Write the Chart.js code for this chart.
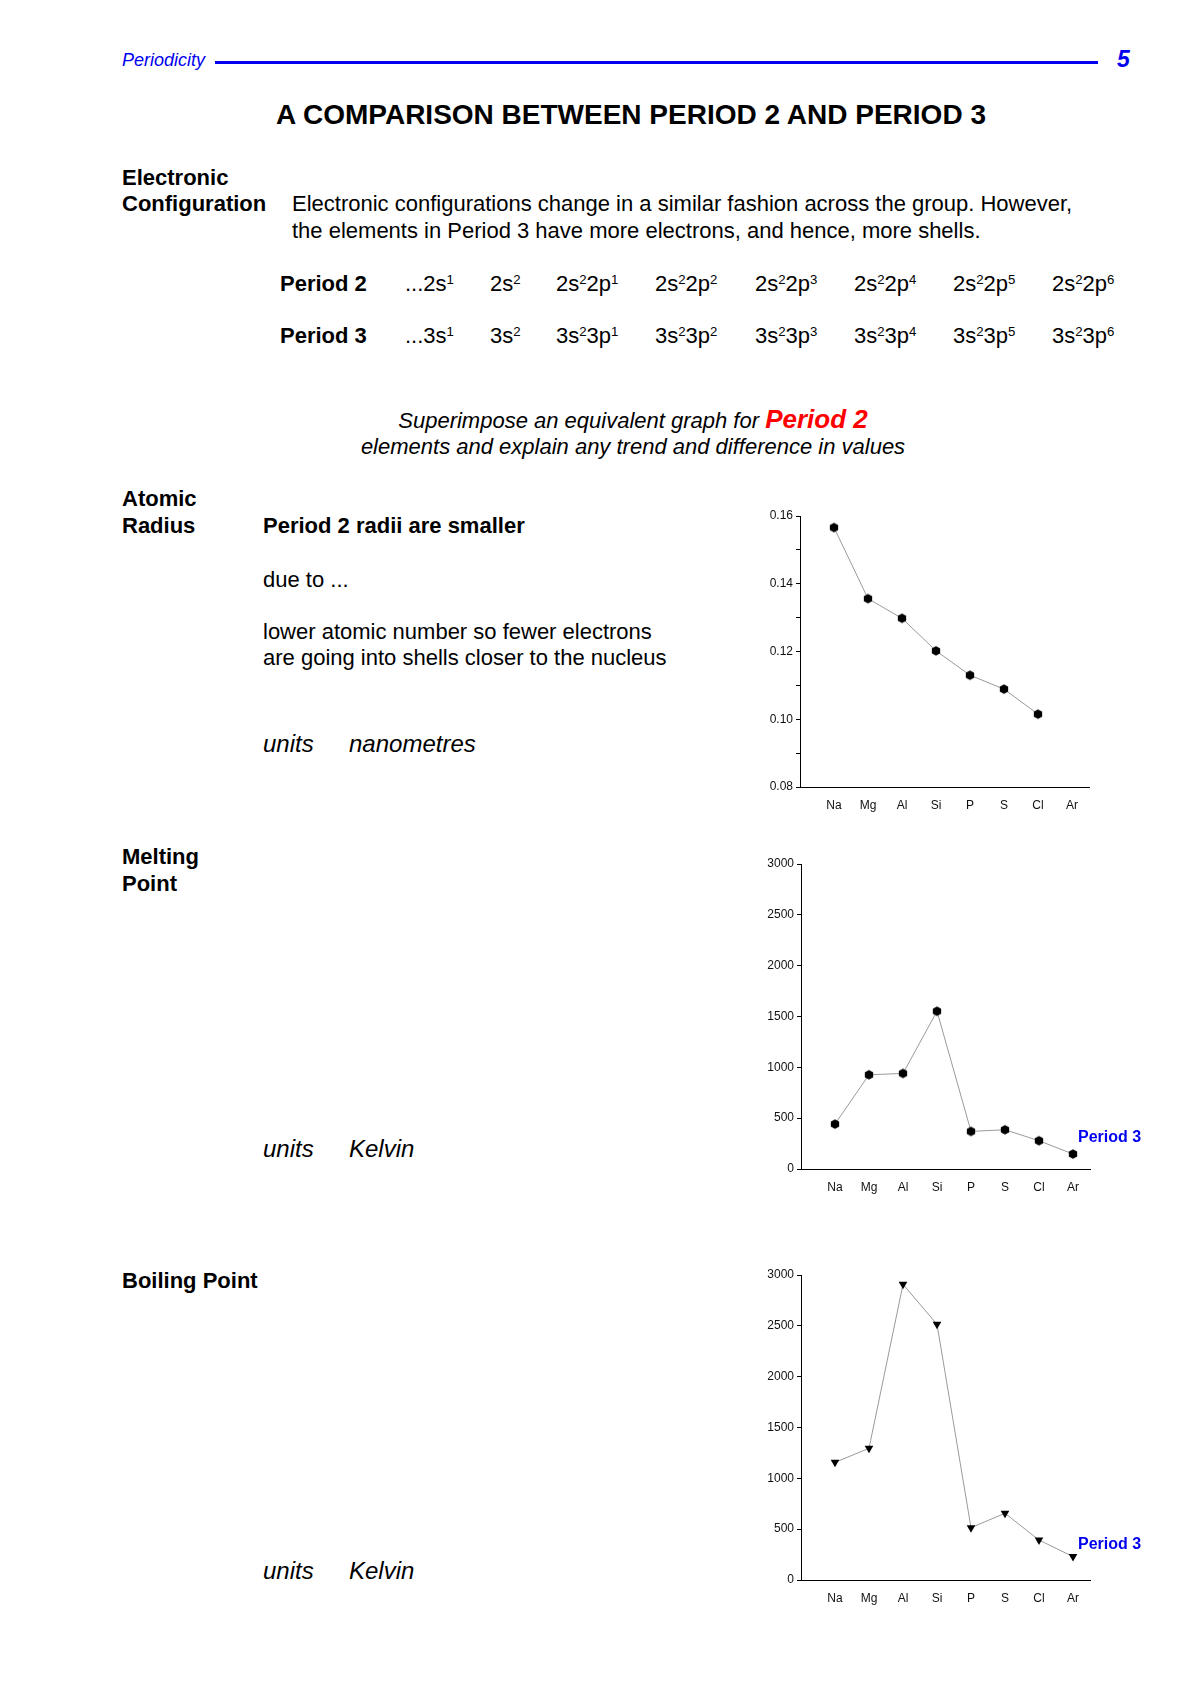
<!DOCTYPE html>
<html>
<head>
<meta charset="utf-8">
<script src="https://cdn.jsdelivr.net/npm/chart.js@4.4.1/dist/chart.umd.min.js"></script>
<style>
  body { margin: 0; background: #fff; font-family: "Liberation Sans", Arial, Helvetica, sans-serif; color: #000; }
  #page { position: relative; width: 1190px; height: 1684px; overflow: hidden; }
  .t { position: absolute; white-space: nowrap; line-height: 1; }
  .b { font-weight: bold; }
  .i { font-style: italic; }
  sup { font-size: 0.6em; vertical-align: 0; position: relative; top: -0.55em; }
  .chart { position: absolute; }
  .p3 { position: absolute; color: #0000ee; font-weight: bold; font-size: 16px; line-height: 1; }
</style>
</head>
<body>
<div id="page">
  <div class="t i" style="left:122px;top:51px;font-size:18px;color:#0000ee;">Periodicity</div>
  <div style="position:absolute;left:215px;top:61px;width:883px;height:3px;background:#0000ee;"></div>
  <div class="t b i" style="left:1117px;top:48px;font-size:23px;color:#0000ee;">5</div>

  <div class="t b" style="left:0;width:1262px;text-align:center;top:101px;font-size:28px;">A COMPARISON BETWEEN PERIOD 2 AND PERIOD 3</div>

  <div class="t b" style="left:122px;top:167px;font-size:22px;">Electronic</div>
  <div class="t b" style="left:122px;top:193px;font-size:22px;">Configuration</div>
  <div class="t" style="left:292px;top:193px;font-size:22px;">Electronic configurations change in a similar fashion across the group. However,</div>
  <div class="t" style="left:292px;top:220px;font-size:22px;">the elements in Period 3 have more electrons, and hence, more shells.</div>

  <div id="cfg"></div>

  <div class="t i" style="left:0;width:1266px;text-align:center;top:406px;font-size:22px;">Superimpose an equivalent graph for <span class="b" style="color:#ff0000;font-size:26px;">Period 2</span></div>
  <div class="t i" style="left:0;width:1266px;text-align:center;top:436px;font-size:22px;">elements and explain any trend and difference in values</div>

  <div class="t b" style="left:122px;top:488px;font-size:22px;">Atomic</div>
  <div class="t b" style="left:122px;top:515px;font-size:22px;">Radius</div>
  <div class="t b" style="left:263px;top:515px;font-size:22px;">Period 2 radii are smaller</div>
  <div class="t" style="left:263px;top:569px;font-size:22px;">due to ...</div>
  <div class="t" style="left:263px;top:621px;font-size:22px;">lower atomic number so fewer electrons</div>
  <div class="t" style="left:263px;top:647px;font-size:22px;">are going into shells closer to the nucleus</div>
  <div class="t i" style="left:263px;top:732px;font-size:24px;">units</div>
  <div class="t i" style="left:349px;top:732px;font-size:24px;">nanometres</div>

  <div class="t b" style="left:122px;top:846px;font-size:22px;">Melting</div>
  <div class="t b" style="left:122px;top:873px;font-size:22px;">Point</div>
  <div class="t i" style="left:263px;top:1137px;font-size:24px;">units</div>
  <div class="t i" style="left:349px;top:1137px;font-size:24px;">Kelvin</div>

  <div class="t b" style="left:122px;top:1270px;font-size:22px;">Boiling Point</div>
  <div class="t i" style="left:263px;top:1559px;font-size:24px;">units</div>
  <div class="t i" style="left:349px;top:1559px;font-size:24px;">Kelvin</div>

  <canvas id="radius" class="chart" width="360" height="317" style="left:740px;top:500px;"></canvas>
  <canvas id="melting" class="chart" width="360" height="349" style="left:741px;top:850px;"></canvas>
  <canvas id="boiling" class="chart" width="360" height="350" style="left:741px;top:1260px;"></canvas>
  <div class="p3" style="left:1078px;top:1129px;">Period 3</div>
  <div class="p3" style="left:1078px;top:1536px;">Period 3</div>
</div>

<script>
const elements = ['Na', 'Mg', 'Al', 'Si', 'P', 'S', 'Cl', 'Ar'];

// values
const atomicRadius = [0.1566, 0.1356, 0.1298, 0.1202, 0.113, 0.1089, 0.1015, null]; // nm
const meltingPoint = [442, 927, 940, 1552, 370, 386, 278, 147];   // K
const boilingPoint = [1157, 1295, 2908, 2515, 515, 656, 393, 230]; // K

const period2Configs = ['...2s<sup>1</sup>', '2s<sup>2</sup>', '2s<sup>2</sup>2p<sup>1</sup>', '2s<sup>2</sup>2p<sup>2</sup>',
  '2s<sup>2</sup>2p<sup>3</sup>', '2s<sup>2</sup>2p<sup>4</sup>', '2s<sup>2</sup>2p<sup>5</sup>', '2s<sup>2</sup>2p<sup>6</sup>'];
const period3Configs = ['...3s<sup>1</sup>', '3s<sup>2</sup>', '3s<sup>2</sup>3p<sup>1</sup>', '3s<sup>2</sup>3p<sup>2</sup>',
  '3s<sup>2</sup>3p<sup>3</sup>', '3s<sup>2</sup>3p<sup>4</sup>', '3s<sup>2</sup>3p<sup>5</sup>', '3s<sup>2</sup>3p<sup>6</sup>'];

// config table
const cfgCols = [405, 490, 556, 655, 755, 854, 953, 1052];
const cfgEl = document.getElementById('cfg');
cfgEl.innerHTML =
  `<div class="t b" style="left:280px;top:273px;font-size:22px;">Period 2</div>` +
  `<div class="t b" style="left:280px;top:325px;font-size:22px;">Period 3</div>` +
  period2Configs.map((c, i) => `<div class="t" style="left:${cfgCols[i]}px;top:273px;font-size:22px;">${c}</div>`).join('') +
  period3Configs.map((c, i) => `<div class="t" style="left:${cfgCols[i]}px;top:325px;font-size:22px;">${c}</div>`).join('');

// hexagon marker
function hexMarker(r) {
  const c = document.createElement('canvas');
  const s = Math.ceil(r * 2 + 2);
  c.width = s; c.height = s;
  const ctx = c.getContext('2d');
  ctx.fillStyle = '#000';
  ctx.beginPath();
  for (let k = 0; k < 6; k++) {
    const a = Math.PI / 6 + k * Math.PI / 3;
    const px = s / 2 + r * Math.cos(a), py = s / 2 + r * Math.sin(a);
    k ? ctx.lineTo(px, py) : ctx.moveTo(px, py);
  }
  ctx.closePath();
  ctx.fill();
  return c;
}
const hex = hexMarker(4.8);

const FONT = { family: '"Liberation Sans", Arial, Helvetica, sans-serif', size: 12 };

function makeChart(id, values, yOpts, marker) {
  const pts = values.map((v, i) => ({ x: i + 1, y: v })).filter(p => p.y !== null);
  return new Chart(document.getElementById(id), {
    type: 'line',
    data: {
      datasets: [{
        data: pts,
        borderColor: '#9a9a9a',
        borderWidth: 1,
        pointBackgroundColor: '#000',
        pointBorderColor: '#000',
        pointBorderWidth: 0,
        ...marker,
      }],
    },
    options: {
      responsive: false,
      animation: false,
      layout: { padding: { top: yOpts.padTop, right: 11, left: 0, bottom: 0 } },
      plugins: { legend: { display: false }, tooltip: { enabled: false } },
      scales: {
        x: {
          type: 'linear',
          min: 0,
          max: 8.5,
          grid: { display: false },
          border: { display: true, color: '#000', width: 1 },
          ticks: {
            stepSize: 1,
            includeBounds: false,
            autoSkip: false,
            maxRotation: 0,
            padding: 3,
            color: '#111',
            font: FONT,
            callback: v => elements[v - 1] || '',
          },
          afterFit: s => { s.height = 30; },
        },
        y: {
          min: yOpts.min,
          max: yOpts.max,
          grid: { drawOnChartArea: false, drawTicks: true, tickLength: 4, color: '#000' },
          border: { display: true, color: '#000', width: 1 },
          ticks: {
            stepSize: yOpts.step,
            padding: 3,
            color: '#111',
            font: FONT,
            callback: yOpts.label,
          },
          afterFit: s => { s.width = 60; },
        },
      },
    },
  });
}

makeChart('radius', atomicRadius, {
  min: 0.08, max: 0.16, step: 0.01, padTop: 16,
  label: v => (Math.round(v * 100) % 2 === 0 ? v.toFixed(2) : ''),
}, { pointStyle: hex, pointRadius: 4.8 });

makeChart('melting', meltingPoint, {
  min: 0, max: 3000, step: 500, padTop: 14, label: v => v,
}, { pointStyle: hex, pointRadius: 4.8 });

makeChart('boiling', boilingPoint, {
  min: 0, max: 3000, step: 500, padTop: 15, label: v => v,
}, { pointStyle: 'triangle', rotation: 180, pointRadius: 5 });
</script>
</body>
</html>
